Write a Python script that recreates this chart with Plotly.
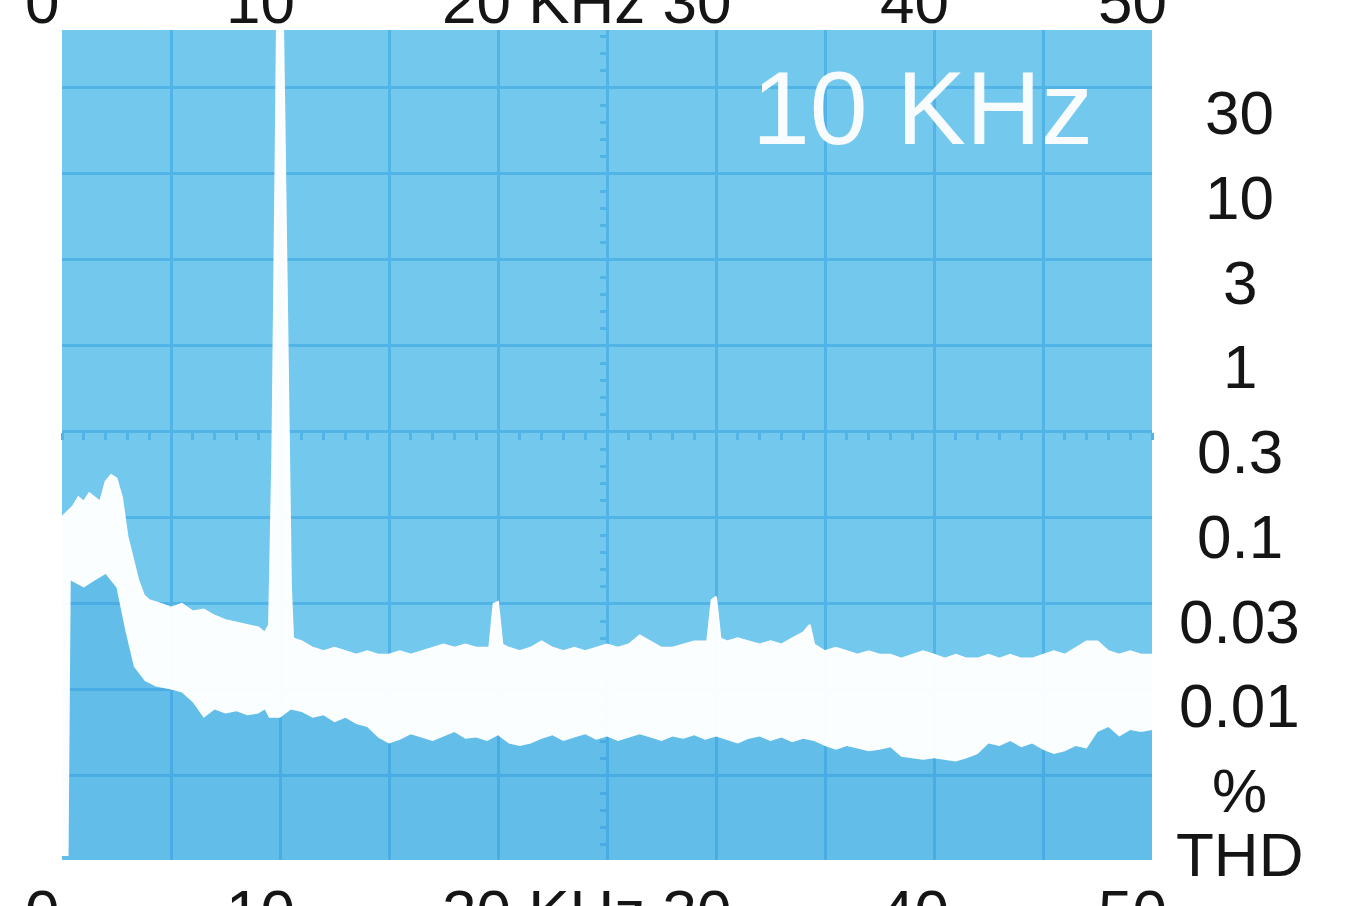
import numpy as np
import plotly.graph_objects as go

# ---- data (THD %) ----
freq_upper = [0.0, 0.25, 0.5, 0.75, 1.0, 1.25, 1.5, 1.75, 2.0, 2.25, 2.5, 2.75, 3.0, 3.25, 3.5, 3.75,
              4.0, 4.5, 5.0, 5.5, 6.0, 6.5, 7.0, 7.5, 8.0, 8.5, 9.0, 9.3,
              9.5, 9.65, 9.75, 9.82, 9.86, 10.14, 10.2, 10.3, 10.4, 10.5, 10.6,
              11.0, 11.5, 12.0, 12.5, 13.0, 13.5, 14.0, 14.5, 15.0, 15.5, 16.0, 16.5, 17.0, 17.5,
              18.0, 18.5, 19.0, 19.6, 19.8, 20.0, 20.2, 20.5, 21.0, 21.5, 22.0, 22.5, 23.0, 23.5,
              24.0, 24.5, 25.0, 25.5, 26.0, 26.5, 27.0, 27.5, 28.0, 28.5, 29.0, 29.6, 29.8, 30.0,
              30.2, 30.5, 31.0, 31.5, 32.0, 32.5, 33.0, 33.5, 34.0, 34.3, 34.5, 35.0, 35.5, 36.0,
              36.5, 37.0, 37.5, 38.0, 38.5, 39.0, 39.5, 40.0, 40.5, 41.0, 41.5, 42.0, 42.5, 43.0,
              43.5, 44.0, 44.5, 45.0, 45.5, 46.0, 46.5, 47.0, 47.5, 48.0, 48.5, 49.0, 49.5, 50.0]
thd_upper = [0.13, 0.14, 0.15, 0.17, 0.16, 0.18, 0.17, 0.16, 0.21, 0.23, 0.22, 0.17, 0.10, 0.075, 0.055, 0.045,
             0.042, 0.040, 0.038, 0.040, 0.036, 0.037, 0.034, 0.032, 0.031, 0.030, 0.029, 0.027,
             0.03, 0.3, 3.0, 30.0, 100.0, 100.0, 30.0, 3.0, 0.3, 0.05, 0.025,
             0.024, 0.022, 0.021, 0.022, 0.021, 0.020, 0.021, 0.020, 0.020, 0.021, 0.020, 0.021, 0.022, 0.023,
             0.022, 0.023, 0.022, 0.022, 0.040, 0.041, 0.023, 0.022, 0.021, 0.022, 0.024, 0.022, 0.021, 0.022,
             0.021, 0.022, 0.023, 0.022, 0.023, 0.026, 0.024, 0.022, 0.022, 0.023, 0.024, 0.024, 0.042, 0.044,
             0.025, 0.024, 0.025, 0.024, 0.023, 0.024, 0.023, 0.025, 0.027, 0.030, 0.023, 0.021, 0.022, 0.021,
             0.020, 0.021, 0.020, 0.020, 0.019, 0.020, 0.021, 0.020, 0.019, 0.020, 0.019, 0.019, 0.020, 0.019,
             0.020, 0.019, 0.019, 0.020, 0.021, 0.020, 0.022, 0.024, 0.024, 0.021, 0.020, 0.021, 0.020, 0.020]

freq_lower = [0.0, 0.3, 0.4, 0.75, 1.0, 1.5, 2.0, 2.5, 2.9, 3.3, 3.8, 4.3, 5.0, 5.5, 6.0, 6.5, 7.0, 7.5,
              8.0, 8.5, 9.0, 9.3, 9.5, 10.0, 10.5, 11.0, 11.5, 12.0, 12.5, 13.0, 13.5, 14.0, 14.5, 15.0,
              15.5, 16.0, 16.5, 17.0, 17.5, 18.0, 18.5, 19.0, 19.5, 20.0, 20.5, 21.0, 21.5, 22.0, 22.5,
              23.0, 23.5, 24.0, 24.5, 25.0, 25.5, 26.0, 26.5, 27.0, 27.5, 28.0, 28.5, 29.0, 29.5, 30.0,
              30.5, 31.0, 31.5, 32.0, 32.5, 33.0, 33.5, 34.0, 34.5, 35.0, 35.5, 36.0, 36.5, 37.0, 37.5,
              38.0, 38.5, 39.0, 39.5, 40.0, 40.5, 41.0, 41.5, 42.0, 42.5, 43.0, 43.5, 44.0, 44.5, 45.0,
              45.5, 46.0, 46.5, 47.0, 47.5, 48.0, 48.5, 49.0, 49.5, 50.0]
thd_lower = [0.0013, 0.0013, 0.055, 0.052, 0.050, 0.055, 0.060, 0.050, 0.028, 0.017, 0.014, 0.013, 0.0125, 0.012,
             0.0105, 0.0085, 0.0095, 0.0090, 0.0093, 0.0088, 0.0090, 0.0095, 0.0085, 0.0085, 0.0095, 0.0092,
             0.0085, 0.0088, 0.0080, 0.0085, 0.0078, 0.0075, 0.0065, 0.0060, 0.0063, 0.0068, 0.0065, 0.0062,
             0.0066, 0.0070, 0.0064, 0.0065, 0.0062, 0.0067, 0.0060, 0.0058, 0.0060, 0.0064, 0.0067, 0.0062,
             0.0065, 0.0068, 0.0063, 0.0066, 0.0062, 0.0065, 0.0068, 0.0065, 0.0062, 0.0066, 0.0064, 0.0067,
             0.0063, 0.0066, 0.0063, 0.0060, 0.0064, 0.0066, 0.0062, 0.0065, 0.0061, 0.0064, 0.0062, 0.0058,
             0.0055, 0.0058, 0.0056, 0.0054, 0.0055, 0.0057, 0.0050, 0.0049, 0.0048, 0.0049, 0.0048, 0.0047,
             0.0049, 0.0052, 0.0060, 0.0058, 0.0062, 0.0057, 0.0060, 0.0055, 0.0052, 0.0054, 0.0058, 0.0056,
             0.0070, 0.0075, 0.0066, 0.0072, 0.0070, 0.0072]

x_tick_values = [0, 10, 25, 40, 50]
x_tick_text = ["0", "10", "20 KHz 30", "40", "50"]
y_tick_values = [31.62, 10, 3.162, 1, 0.3162, 0.1, 0.03162, 0.01]
y_tick_text = ["30", "10", "3", "1", "0.3", "0.1", "0.03", "0.01"]
unit_labels = ["%", "THD"]
unit_values = [0.003162, 0.00132]
title_text = "10 KHz"

# ---- styling ----
BG = "rgb(115,200,238)"
GRID = "rgb(82,180,230)"
FONT = "Liberation Sans, Arial, sans-serif"
Y_LOG_RANGE = [-2.91, 1.989]
GRAT_RANGE = [-0.977, 8.674]
floor_val = 10 ** Y_LOG_RANGE[0]

fig = go.Figure()
fig.add_trace(go.Scatter(x=[0, 50], y=[floor_val, floor_val], mode="lines",
                         line=dict(width=0), hoverinfo="skip"))
fig.add_trace(go.Scatter(x=freq_lower, y=thd_lower, mode="lines", fill="tonexty",
                         fillcolor="rgba(40,150,220,0.22)", line=dict(width=0), hoverinfo="skip"))
fig.add_trace(go.Scatter(x=freq_upper, y=thd_upper, mode="lines", fill="tonexty",
                         fillcolor="rgba(255,255,255,0.97)",
                         line=dict(color="white", width=2), hoverinfo="skip"))
# invisible carriers for graticule axes
fig.add_trace(go.Scatter(x=[0], y=[0], xaxis="x", yaxis="y2", mode="markers",
                         marker=dict(opacity=0), hoverinfo="skip"))
fig.add_trace(go.Scatter(x=[0], y=[1], xaxis="x3", yaxis="y", mode="markers",
                         marker=dict(opacity=0), hoverinfo="skip"))
fig.add_trace(go.Scatter(x=[0], y=[0], xaxis="x", yaxis="y3", mode="markers",
                         marker=dict(opacity=0), hoverinfo="skip"))

annotations = []
for v, t in zip(x_tick_values, x_tick_text):
    for yp, ys in ((1, 29), (0, -51)):
        annotations.append(dict(x=v, xref="x", y=yp, yref="paper", text=t, showarrow=False,
                                xanchor="center", yanchor="middle", xshift=-20, yshift=ys,
                                font=dict(family=FONT, size=62, color="#151515")))
for v, t in zip(y_tick_values + unit_values, y_tick_text + unit_labels):
    annotations.append(dict(x=1.0807, xref="paper", y=np.log10(v), yref="y", text=t,
                            showarrow=False, xanchor="center", yanchor="middle",
                            font=dict(family=FONT, size=62, color="#151515")))
annotations.append(dict(x=0.789, xref="paper", y=0.906, yref="paper", text=title_text,
                        showarrow=False, xanchor="center", yanchor="middle",
                        font=dict(family=FONT, size=104, color="rgba(255,255,255,0.95)")))

fig.update_layout(
    width=1369, height=906,
    margin=dict(l=62, r=217, t=30, b=46),
    paper_bgcolor="white", plot_bgcolor=BG, showlegend=False,
    xaxis=dict(range=[0, 50], dtick=5, tick0=0, showgrid=True, gridcolor=GRID, gridwidth=2.5,
               showticklabels=False, zeroline=False, showline=False, ticks=""),
    yaxis=dict(type="log", range=Y_LOG_RANGE, showgrid=False, showticklabels=False,
               zeroline=False, showline=False, ticks=""),
    yaxis2=dict(overlaying="y", range=GRAT_RANGE, dtick=1, tick0=0, showgrid=True,
                gridcolor=GRID, gridwidth=2.5, showticklabels=False, zeroline=False,
                showline=False, ticks=""),
    xaxis3=dict(overlaying="x", range=[0, 50], anchor="free", layer="below traces",
                position=(4 - GRAT_RANGE[0]) / (GRAT_RANGE[1] - GRAT_RANGE[0]),
                dtick=1, tick0=0, ticks="outside", ticklen=7, tickwidth=3, tickcolor=GRID,
                showgrid=False, showticklabels=False, zeroline=False, showline=False),
    yaxis3=dict(overlaying="y", range=GRAT_RANGE, anchor="free", position=0.5, layer="below traces",
                dtick=0.2, tick0=0, ticks="outside", ticklen=7, tickwidth=3, tickcolor=GRID,
                showgrid=False, showticklabels=False, zeroline=False, showline=False),
    annotations=annotations,
)

fig.write_html("out.html")
